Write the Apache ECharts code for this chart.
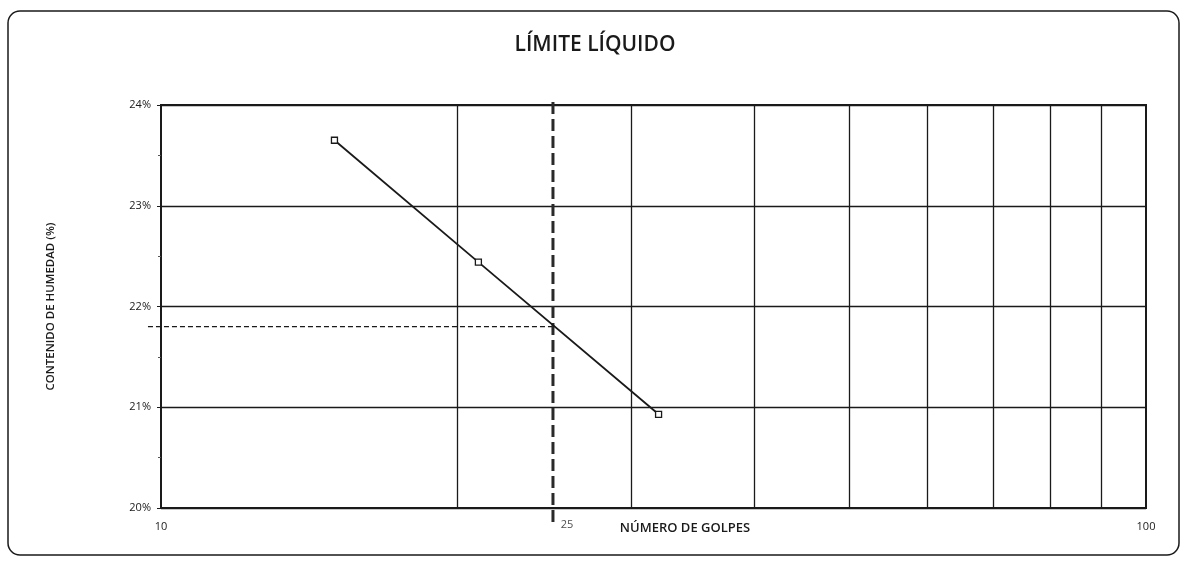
<!DOCTYPE html>
<html>
<head>
<meta charset="utf-8">
<script src="https://cdn.jsdelivr.net/npm/echarts@6/dist/echarts.min.js"></script>
<style>
html,body{margin:0;padding:0;background:#fff;}
#chart{width:1184px;height:563px;}
</style>
</head>
<body>
<div id="chart"></div>
<script>
// Data
const golpes = [15, 21, 32];
const humedad = [23.65, 22.44, 20.93];
const golpesRef = 25;
const limiteLiquido = 21.8;
const lineStartX = 9.7;
const xMinorGrid = [20, 30, 40, 50, 60, 70, 80, 90];
const yTicks = [20, 21, 22, 23, 24];

const FONT = '"Open Sans", "Liberation Sans", sans-serif';
const INK = '#1a1a1a';

const chart = echarts.init(document.getElementById('chart'));
chart.setOption({
  animation: false,
  backgroundColor: '#fff',
  title: {
    text: 'LÍMITE LÍQUIDO',
    left: 590, top: 30, textAlign: 'center',
    textStyle: {fontFamily: FONT, fontSize: 21, fontWeight: 600, color: INK}
  },
  graphic: [
    {type: 'rect', shape: {x: 8, y: 11, width: 1171, height: 544, r: 12},
     style: {fill: 'none', stroke: INK, lineWidth: 1.5}, z: -1},
    {type: 'text', x: 685, y: 522,
     style: {text: 'NÚMERO DE GOLPES', font: '600 13px ' + FONT, fill: INK, textAlign: 'center'}}
  ],
  grid: {left: 161, right: 38, top: 105, bottom: 55, show: true, borderColor: INK, borderWidth: 2},
  xAxis: {
    type: 'log', logBase: 10, min: 10, max: 100,
    axisLine: {show: true, lineStyle: {color: INK, width: 2}},
    axisTick: {show: false},
    splitLine: {show: false},
    axisLabel: {fontFamily: FONT, fontSize: 11, color: INK, margin: 13,
      formatter: v => (v === 10 || v === 100) ? String(v) : ''}
  },
  yAxis: {
    type: 'value', min: yTicks[0], max: yTicks[yTicks.length - 1], interval: 1,
    name: 'CONTENIDO DE HUMEDAD (%)', nameLocation: 'middle', nameGap: 104,
    nameTextStyle: {fontFamily: FONT, fontSize: 11.5, fontWeight: 600, color: INK},
    axisLine: {show: true, lineStyle: {color: INK, width: 2}},
    axisTick: {show: true, length: 4, lineStyle: {color: INK}},
    minorTick: {show: true, splitNumber: 2, length: 3, lineStyle: {color: '#555'}},
    splitLine: {show: true, lineStyle: {color: INK, width: 1.4}},
    axisLabel: {fontFamily: FONT, fontSize: 11, color: INK, margin: 10, formatter: '{value}%'}
  },
  series: [
    {
      type: 'line', name: 'grid', silent: true, data: [],
      markLine: {
        silent: true, symbol: 'none', label: {show: false},
        lineStyle: {type: 'solid', color: INK, width: 1.3},
        data: xMinorGrid.map(v => ({xAxis: v}))
      }
    },
    {
      type: 'custom', name: 'LL horizontal', clip: false, silent: true,
      data: [[golpesRef, limiteLiquido]], z: 3,
      renderItem: function (params, api) {
        const a = api.coord([10, api.value(1)]);
        const b = api.coord([api.value(0), api.value(1)]);
        const perLog = (b[0] - a[0]) / Math.log10(api.value(0) / 10);
        const x0 = a[0] + perLog * Math.log10(lineStartX / 10);
        return {type: 'line', shape: {x1: x0, y1: b[1], x2: b[0], y2: b[1]},
          style: {stroke: INK, lineWidth: 1.3, lineDash: [5, 3], fill: null}};
      }
    },
    {
      type: 'line', name: 'LL vertical', clip: false, silent: true,
      data: [[golpesRef, 19.86], [golpesRef, 24.08]],
      symbol: 'none', lineStyle: {color: '#2a2a2a', width: 3, type: [12, 5]}, z: 3
    },
    {
      type: 'scatter', name: 'label25', clip: false, silent: true,
      data: [[golpesRef, 20]], symbolSize: 0,
      label: {show: true, formatter: String(golpesRef), position: 'bottom', offset: [14, 6],
        fontFamily: FONT, fontSize: 11, color: INK}
    },
    {
      type: 'line', name: 'Humedad',
      data: golpes.map((g, i) => [g, humedad[i]]),
      symbol: 'rect', symbolSize: 6,
      itemStyle: {color: '#fff', borderColor: INK, borderWidth: 1.3},
      lineStyle: {color: INK, width: 1.8}, z: 5
    }
  ]
});
</script>
</body>
</html>
